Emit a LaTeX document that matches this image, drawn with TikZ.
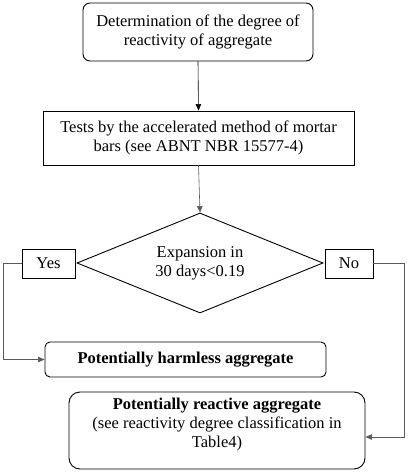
\documentclass[tikz,border=0pt]{standalone}
\usepackage{fontspec}
\setmainfont{Liberation Serif}
\usetikzlibrary{shapes.geometric,arrows.meta}
\newcommand{\fs}{\fontsize{16.5}{19}\selectfont}

\tikzset{
  boxtext/.style={align=center,inner sep=0pt,font=\fs},
  roundbox/.style={boxtext,draw,line width=0.9pt,rounded corners=7pt},
  squarebox/.style={boxtext,draw,line width=0.9pt},
  decision/.style={boxtext,draw,line width=0.9pt,diamond,aspect=2.46},
  link/.style={->,line width=0.6pt},
  graylink/.style={link,draw=black!65}
}

\begin{document}
\begin{tikzpicture}[x=1pt,y=-1pt,>={Triangle[length=6.5pt,width=5.5pt]}]
   \useasboundingbox (0,0) rectangle (410,473);
   \node[roundbox,minimum width=230pt,minimum height=58pt] (detn) at (198,32)
      {Determination of the degree of\\reactivity of aggregate};
   \node[squarebox,minimum width=311pt,minimum height=54pt] (tests) at (198.5,138)
      {Tests by the accelerated method of mortar\\bars (see ABNT NBR 15577-4)};
   \node[decision,minimum width=246pt,minimum height=100pt] (expn) at (200,263)
      {Expansion in\\30 days<0.19};
   \node[squarebox,minimum width=53pt,minimum height=29pt] (yes) at (48.5,263.5) {Yes};
   \node[squarebox,minimum width=48pt,minimum height=29pt] (no) at (349,263.5) {No};
   \node[roundbox,rounded corners=5pt,minimum width=281pt,minimum height=35pt] (harmless) at (185.5,359.5)
      {\bfseries Potentially harmless aggregate};
   % text sits a little above the middle of this box
   \node[roundbox,rounded corners=11pt,minimum width=296pt,minimum height=77pt] (reactive) at (217,430.5)
      {\bfseries Potentially reactive aggregate\\(see reactivity degree classification in\\Table4)\\[-3pt]\mbox{}};
   \coordinate (yesbend) at (3,263.5);
   \coordinate (nobend) at (404,263.5);
   \draw[link] (detn.south) -- (tests.north);
   \draw[graylink] (tests.south) -- (expn.north);
   \draw[graylink] (yes.west) -- (yesbend) |- (harmless.west);
   \draw[graylink] (no.east) -- (nobend) |- ([yshift=-6.5pt]reactive.east);
\end{tikzpicture}
\end{document}
